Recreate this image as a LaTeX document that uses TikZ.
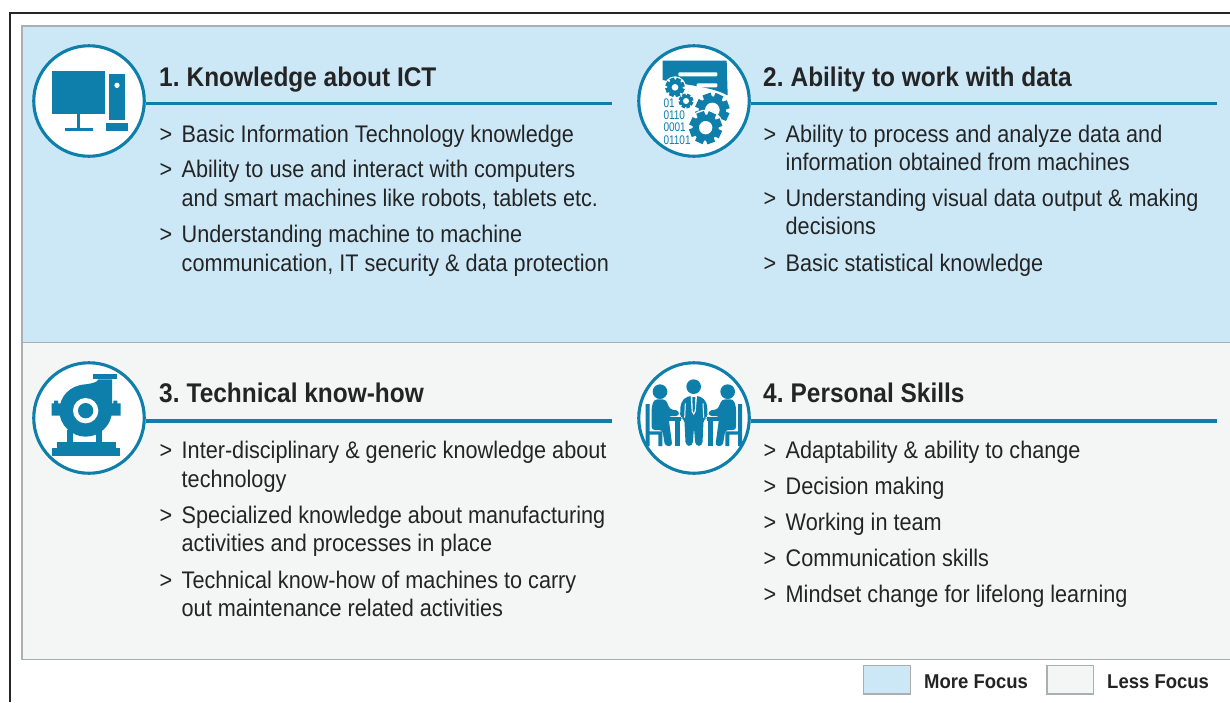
\documentclass[tikz,border=0pt]{standalone}
\usepackage{fontspec}
\setmainfont{Liberation Sans}
\newfontfamily\bodyf[FakeStretch=0.902]{Liberation Sans}
\newfontfamily\headf[FakeStretch=0.905]{Liberation Sans}
\newfontfamily\legf[FakeStretch=0.925]{Liberation Sans}
\newfontfamily\bitf[FakeStretch=0.8]{Liberation Sans}
\definecolor{iconblue}{HTML}{0E7FAB}
\definecolor{morefocus}{HTML}{CCE8F7}
\definecolor{lessfocus}{HTML}{F4F6F6}
\definecolor{panelline}{HTML}{ABAFB2}
\definecolor{txt}{HTML}{242424}
\tikzset{
  iconring/.style={circle,draw=iconblue,line width=3.1pt,fill=white,minimum size=110.5pt,inner sep=0pt},
  headrule/.style={draw=iconblue,line width=3.4pt},
  headtext/.style={anchor=base west,inner sep=0pt,text=txt,font=\headf\bfseries\fontsize{27}{30}\selectfont},
  btext/.style={anchor=north west,inner sep=0pt,align=left,text=txt,font=\bodyf\fontsize{24}{28.6}\selectfont},
  legbox/.style={draw=panelline,line width=1.2pt},
  legtext/.style={anchor=base west,inner sep=0pt,text=txt,font=\legf\bfseries\fontsize{20}{24}\selectfont},
  bits/.style={inner sep=0pt,anchor=west,text=iconblue,font=\bitf\fontsize{12.5}{14}\selectfont},
}
\newcommand{\bul}[4]{%
  \node[btext] (#1m) at (#2-0.5,#3-21) {\strut>};
  \node[btext] (#1) at (#2+21.5,#3-21) {\strut #4};
}
% x y outer-radius hole-radius
\newcommand{\gearicon}[4]{%
  \begin{scope}[shift={(#1,#2)}]
    \fill[iconblue] (0,0) circle ({0.8*#3});
    \foreach \a in {0,45,...,315}{
      \fill[iconblue,rotate=\a+20] ({-0.25*#3},{0.6*#3}) rectangle ({0.25*#3},{#3});
    }
    \fill[white] (0,0) circle (#4);
  \end{scope}
}
\newcommand{\seated}{%
  \fill[iconblue] (105,125) circle (22);
  \fill[iconblue,rounded corners=3pt] (80,170) -- (88,148) -- (122,148) -- (135,178) -- (162,182) -- (162,198) -- (130,198) -- (142,288) -- (120,288) -- (112,240) -- (80,240) -- cycle;
  \fill[iconblue] (62,162) -- (74,162) -- (74,244) -- (112,244) -- (112,288) -- (100,288) -- (100,254) -- (74,254) -- (74,288) -- (62,288) -- cycle;
}
\begin{document}
\begin{tikzpicture}[x=1pt,y=-1pt]
\useasboundingbox (0,0) rectangle (1230,702);
\fill[white] (0,0) rectangle (1230,702);
% panels
\fill[morefocus] (22,26) rectangle (1230,342.5);
\fill[lessfocus] (22,342.5) rectangle (1230,659.5);
\draw[panelline,line width=1.3pt] (1230,26) -- (22,26) -- (22,659.5) -- (1230,659.5);
\draw[panelline,line width=1.3pt] (22,342.5) -- (1230,342.5);
% outer frame
\draw[black!85,line width=1.6pt] (10,702) -- (10,13) -- (1230,13);
% rings
\node[iconring] (ring1) at (89,101) {};
\node[iconring] (ring2) at (694,101) {};
\node[iconring] (ring3) at (89,418) {};
\node[iconring] (ring4) at (694,418) {};
\coordinate (end1) at (612,103.5);
\coordinate (end2) at (1217,103.5);
\coordinate (end3) at (612,421);
\coordinate (end4) at (1217,421);
\foreach \i in {1,2,3,4}{ \draw[headrule] (ring\i.east |- end\i) -- (end\i); }
% icon 1: computer
\begin{scope}[shift={(20pt,-30pt)},x=0.33333pt,y=-0.33333pt]
  \fill[iconblue] (96,124) rectangle (256,252);
  \fill[iconblue] (172,252) rectangle (180,298);
  \fill[iconblue] (135,295) rectangle (219,304);
  \fill[iconblue] (266,132) rectangle (316,270);
  \fill[white] (291,166) circle (8);
  \fill[iconblue] (257,278) rectangle (325,304);
\end{scope}
% icon 2: data
\begin{scope}[shift={(625pt,-30pt)},x=0.33333pt,y=-0.33333pt]
  \fill[iconblue] (113,92) -- (305,92) -- (308,196) .. controls (260,170) and (180,165) .. (113,150) -- cycle;
  \fill[white,rounded corners=1pt] (160,127) rectangle (277,139);
  \fill[white,rounded corners=1pt] (215,160) rectangle (277,172);
  \fill[white] (150,172) circle (33);
  \gearicon{150}{172}{29}{10}
  \gearicon{183}{213}{22}{9}
  \fill[white] (262,240) circle (54);
  \gearicon{262}{240}{51}{22}
  \fill[white] (242,293) circle (54);
  \gearicon{242}{293}{49}{20}
  \node[bits] (b1) at (115,220) {01};
  \node[bits] (b2) at (115,255) {0110};
  \node[bits] (b3) at (115,293) {0001};
  \node[bits] (b4) at (115,332) {01101};
\end{scope}
% icon 3: pump
\begin{scope}[shift={(20pt,-350pt)},x=0.33333pt,y=-0.33333pt]
  \fill[iconblue] (220,72) rectangle (292,88);
  \fill[iconblue] (235,88) .. controls (232,98) and (215,100) .. (197,103) .. controls (150,105) and (118,140) .. (118,182) .. controls (118,225) and (155,260) .. (197,260) .. controls (240,260) and (276,225) .. (276,182) -- (276,88) -- cycle;
  \fill[iconblue] (95,160) -- (102,160) -- (102,152) -- (114,152) -- (114,160) -- (122,160) -- (122,197) -- (95,197) -- cycle;
  \fill[iconblue] (272,160) -- (280,160) -- (280,152) -- (292,152) -- (292,160) -- (302,160) -- (302,197) -- (272,197) -- cycle;
  \fill[white] (197,182) circle (38);
  \fill[iconblue] (197,182) circle (23);
  \fill[iconblue] (140,240) rectangle (158,280);
  \fill[iconblue] (228,240) rectangle (246,280);
  \fill[iconblue] (112,277) rectangle (287,293);
  \fill[iconblue] (96,295) rectangle (300,318);
\end{scope}
% icon 4: meeting
\begin{scope}[shift={(625pt,-350pt)},x=0.33333pt,y=-0.33333pt]
  \seated
  \begin{scope}[shift={(137.67pt,0pt)},xscale=-1]
    \seated
  \end{scope}
  \fill[iconblue] (130,200) rectangle (283,212);
  \fill[iconblue] (151,212) rectangle (165,288);
  \fill[iconblue] (249,212) rectangle (263,288);
  \fill[white] (168,196) rectangle (246,288);
  \fill[iconblue] (206,110) circle (22);
  \fill[iconblue,rounded corners=4pt] (165,205) -- (167,158) -- (186,138) -- (227,138) -- (246,158) -- (248,205) -- (236,205) -- (232,288) -- (211,288) -- (207,232) -- (203,288) -- (182,288) -- (178,205) -- cycle;
  \draw[white,line width=1pt] (181,160) -- (179,203);
  \draw[white,line width=1pt] (234,160) -- (236,203);
  \fill[white] (197,138) -- (216,138) -- (212,185) -- (206,195) -- (200,185) -- cycle;
  \fill[iconblue] (202,141) -- (211,141) -- (209,182) -- (206,188) -- (203,182) -- cycle;
\end{scope}
% headings
\node[headtext] (h1) at (159,86) {1.\kern-2pt{} Knowledge about ICT};
\node[headtext] (h2) at (763,86) {2.\kern-2pt{} Ability to work with data};
\node[headtext] (h3) at (159,402.5) {3.\kern-2pt{} Technical know-how};
\node[headtext] (h4) at (763,402.5) {4.\kern-2pt{} Personal Skills};
% bullets
\bul{a}{160}{143}{Basic Information Technology knowledge}
\bul{b}{160}{178.5}{Ability to use and interact with computers\\and smart machines like robots, tablets etc.}
\bul{c}{160}{243.5}{Understanding machine to machine\\communication, IT security \& data protection}
\bul{d}{764}{143}{Ability to process and analyze data and\\information obtained from machines}
\bul{e}{764}{207}{Understanding visual data output \& making\\decisions}
\bul{f}{764}{272.5}{Basic statistical knowledge}
\bul{g}{160}{459.5}{Inter-disciplinary \& generic knowledge about\\technology}
\bul{h}{160}{524}{Specialized knowledge about manufacturing\\activities and processes in place}
\bul{i}{160}{589}{Technical know-how of machines to carry\\out maintenance related activities}
\bul{j}{764}{459.5}{Adaptability \& ability to change}
\bul{k}{764}{495}{Decision making}
\bul{l}{764}{531}{Working in team}
\bul{m}{764}{567}{Communication skills}
\bul{n}{764}{603}{Mindset change for lifelong learning}
% legend
\filldraw[legbox,fill=morefocus] (863.5,665.5) rectangle (910.5,694);
\filldraw[legbox,fill=lessfocus] (1047,665.5) rectangle (1093.5,694);
\node[legtext] (l1) at (924,688) {More Focus};
\node[legtext] (l2) at (1107,688) {Less Focus};
\end{tikzpicture}
\end{document}
